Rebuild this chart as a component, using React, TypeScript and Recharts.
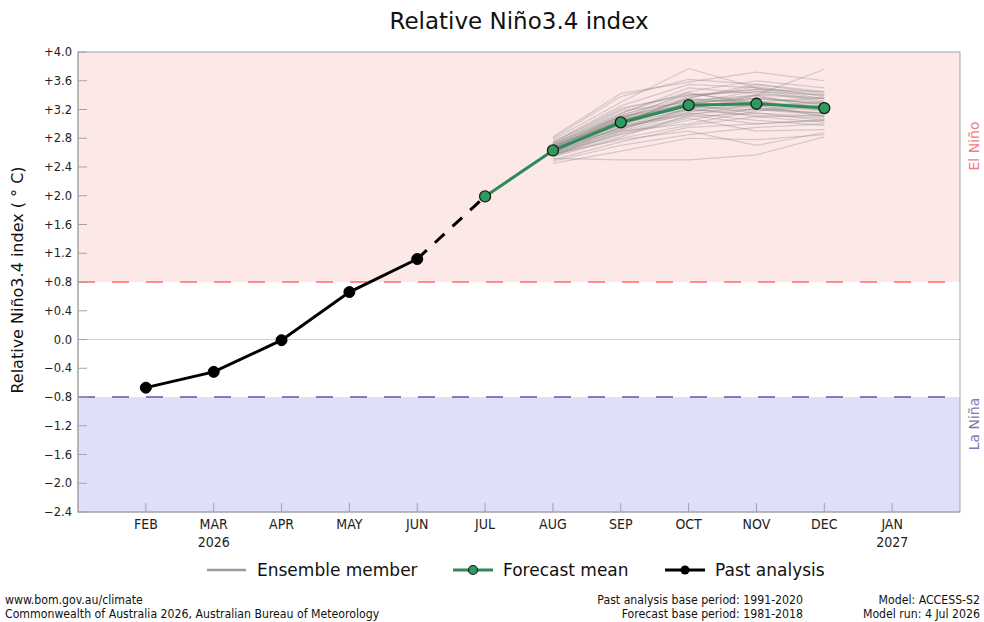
import React from 'react';
import {
  ComposedChart,
  Line,
  XAxis,
  YAxis,
  ReferenceArea,
  ReferenceLine,
} from 'recharts';

const months = ['FEB', 'MAR', 'APR', 'MAY', 'JUN', 'JUL', 'AUG', 'SEP', 'OCT', 'NOV', 'DEC', 'JAN'];
const yearLabels = ['', '2026', '', '', '', '', '', '', '', '', '', '2027'];
const yTicks = [-2.4, -2.0, -1.6, -1.2, -0.8, -0.4, 0.0, 0.4, 0.8, 1.2, 1.6, 2.0, 2.4, 2.8, 3.2, 3.6, 4.0];

// FEB..JUN
const pastAnalysis = [-0.67, -0.45, -0.01, 0.66, 1.12];
// JUL..DEC
const forecastMean = [1.99, 2.63, 3.02, 3.26, 3.28, 3.22];
// AUG..DEC, one row per ensemble member
const ensembleMembers = [
  [2.62, 3.0, 3.25, 3.3, 3.22],
  [2.7, 3.12, 3.4, 3.45, 3.3],
  [2.55, 2.88, 3.1, 3.15, 3.1],
  [2.66, 3.05, 3.3, 3.25, 3.18],
  [2.75, 3.25, 3.55, 3.5, 3.4],
  [2.5, 2.75, 2.95, 3.0, 3.05],
  [2.68, 3.1, 3.28, 3.4, 3.35],
  [2.6, 2.95, 3.18, 3.2, 3.15],
  [2.8, 3.38, 3.62, 3.55, 3.45],
  [2.58, 2.92, 3.22, 3.35, 3.28],
  [2.64, 3.02, 3.35, 3.3, 3.2],
  [2.72, 3.15, 3.45, 3.6, 3.5],
  [2.48, 2.7, 2.85, 2.95, 3.0],
  [2.62, 3.08, 3.2, 3.12, 3.08],
  [2.7, 3.05, 3.28, 3.38, 3.26],
  [2.56, 2.9, 3.15, 3.05, 2.98],
  [2.66, 2.98, 3.3, 3.45, 3.4],
  [2.78, 3.3, 3.77, 3.5, 3.35],
  [2.6, 2.96, 3.12, 3.28, 3.22],
  [2.52, 2.5, 2.5, 2.57, 2.82],
  [2.68, 3.04, 3.24, 3.2, 3.12],
  [2.62, 3.0, 3.38, 3.48, 3.32],
  [2.74, 3.2, 3.42, 3.3, 3.25],
  [2.58, 2.85, 3.05, 3.22, 3.15],
  [2.64, 3.1, 3.32, 3.4, 3.76],
  [2.7, 3.0, 3.2, 3.25, 3.3],
  [2.54, 2.8, 2.98, 3.1, 3.12],
  [2.66, 3.06, 3.26, 3.15, 3.05],
  [2.6, 3.02, 3.36, 3.55, 3.42],
  [2.72, 3.18, 3.3, 3.35, 3.28],
  [2.64, 2.94, 3.16, 3.32, 3.18],
  [2.82, 3.42, 3.58, 3.72, 3.6],
  [2.6, 2.86, 3.08, 2.9, 2.92],
  [2.68, 3.08, 3.34, 3.28, 3.24],
  [2.56, 2.96, 3.22, 3.1, 3.02],
  [2.7, 3.14, 3.5, 3.42, 3.36],
  [2.62, 2.98, 3.14, 3.2, 3.26],
  [2.45, 2.62, 2.8, 2.78, 2.85],
  [2.66, 3.04, 3.28, 3.36, 3.3],
  [2.74, 3.22, 3.4, 3.48, 3.45],
  [2.58, 2.78, 2.9, 2.7, 2.88],
  [2.64, 3.0, 3.3, 3.22, 3.14],
  [2.68, 2.92, 3.2, 3.4, 3.2],
  [2.6, 3.06, 3.44, 3.26, 3.1],
  [2.72, 3.1, 3.24, 3.3, 3.36],
  [2.62, 2.9, 3.0, 3.18, 3.24],
  [2.66, 3.12, 3.36, 3.52, 3.38],
  [2.56, 2.82, 3.12, 3.0, 3.06],
];

const data = months.map((label, i) => {
  const row: Record<string, number | string | null> = {
    m: i + 1,
    label,
    past: i < 5 ? pastAnalysis[i] : null,
    gap: i === 4 ? pastAnalysis[4] : i === 5 ? forecastMean[0] : null,
    mean: i >= 5 && i < 11 ? forecastMean[i - 5] : null,
  };
  ensembleMembers.forEach((mem, k) => {
    row[`e${k}`] = i >= 6 && i < 11 ? mem[i - 6] : null;
  });
  return row;
});

const FONT = "'DejaVu Sans', Verdana, sans-serif";
const COND = "'DejaVu Sans Condensed', 'DejaVu Sans', sans-serif";
const SPINE = '#a3a3a3';
const TICK = 9;

const fmtY = (v: number) => {
  if (Math.abs(v) < 1e-9) return '0.0';
  return (v > 0 ? '+' : '\u2212') + Math.abs(v).toFixed(1);
};

const LeftTick = (props: any) => {
  const { x, y, payload } = props;
  return (
    <g>
      <line x1={x} x2={x + TICK} y1={y} y2={y} stroke={SPINE} />
      <text x={x - 6} y={y} dy={4} textAnchor="end" fontSize={11.5} fontFamily={FONT} fill="#222">
        {fmtY(payload.value)}
      </text>
    </g>
  );
};

const RightTick = (props: any) => {
  const { x, y } = props;
  return <line x1={x} x2={x - TICK} y1={y} y2={y} stroke={SPINE} />;
};

const BottomTick = (props: any) => {
  const { x, y, payload } = props;
  const i = payload.value - 1;
  return (
    <g>
      <line x1={x} x2={x} y1={y} y2={y - TICK} stroke={SPINE} />
      <text x={x} y={y + 17} textAnchor="middle" fontSize={14} fontFamily={COND} style={{ fontStretch: 'condensed' }} fill="#222">
        {months[i]}
      </text>
      {yearLabels[i] && (
        <text x={x} y={y + 35} textAnchor="middle" fontSize={14} fontFamily={COND} style={{ fontStretch: 'condensed' }} fill="#222">
          {yearLabels[i]}
        </text>
      )}
    </g>
  );
};

const TopTick = (props: any) => {
  const { x, y } = props;
  return <line x1={x} x2={x} y1={y} y2={y + TICK} stroke={SPINE} />;
};

const xTicks = months.map((_, i) => i + 1);

export default function App() {
  return (
    <div style={{ position: 'absolute', left: 0, top: 0, width: 984, height: 622, background: '#fff' }}>
      <ComposedChart
        width={984}
        height={622}
        data={data}
        margin={{ top: 52, right: 24, bottom: 70, left: 0 }}
      >
        <ReferenceArea y1={0.8} y2={4.0} fill="#fde8e8" fillOpacity={1} stroke="none" />
        <ReferenceArea y1={-2.4} y2={-0.8} fill="#dfdff9" fillOpacity={1} stroke="none" />
        <ReferenceLine y={0} stroke="#cfcfcf" strokeWidth={1.2} />
        <ReferenceLine y={0.8} stroke="#ff6b6b" strokeWidth={1.3} strokeDasharray="17 17" />
        <ReferenceLine y={-0.8} stroke="#5a5aa8" strokeWidth={1.3} strokeDasharray="17 17" />
        <XAxis
          type="number"
          dataKey="m"
          domain={[0, 13]}
          ticks={xTicks}
          interval={0}
          height={40}
          tickSize={0}
          tickMargin={0}
          tickLine={false}
          axisLine={{ stroke: SPINE }}
          tick={<BottomTick />}
        />
        <XAxis
          xAxisId="top"
          orientation="top"
          type="number"
          domain={[0, 13]}
          ticks={xTicks}
          interval={0}
          height={0}
          tickSize={0}
          tickMargin={0}
          tickLine={false}
          axisLine={{ stroke: SPINE }}
          tick={<TopTick />}
        />
        <YAxis
          type="number"
          domain={[-2.4, 4.0]}
          ticks={yTicks}
          interval={0}
          width={78}
          tickSize={0}
          tickMargin={0}
          tickLine={false}
          axisLine={{ stroke: SPINE }}
          tick={<LeftTick />}
        />
        <YAxis
          yAxisId="right"
          orientation="right"
          type="number"
          domain={[-2.4, 4.0]}
          ticks={yTicks}
          interval={0}
          width={0}
          tickSize={0}
          tickMargin={0}
          tickLine={false}
          axisLine={{ stroke: SPINE }}
          tick={<RightTick />}
        />
        {ensembleMembers.map((_, k) => (
          <Line
            key={`e${k}`}
            dataKey={`e${k}`}
            type="linear"
            stroke="#888"
            strokeOpacity={0.34}
            strokeWidth={1.2}
            dot={false}
            activeDot={false}
            isAnimationActive={false}
          />
        ))}
        <Line
          dataKey="gap"
          type="linear"
          stroke="#000"
          strokeWidth={3}
          strokeDasharray="13 11"
          dot={false}
          activeDot={false}
          isAnimationActive={false}
        />
        <Line
          dataKey="past"
          type="linear"
          stroke="#000"
          strokeWidth={3}
          dot={{ r: 5.5, fill: '#000', stroke: '#000', strokeWidth: 1 }}
          activeDot={false}
          isAnimationActive={false}
        />
        <Line
          dataKey="mean"
          type="linear"
          stroke="#2e8b57"
          strokeWidth={3}
          dot={{ r: 5.5, fill: '#2f9a5e', stroke: '#1a1a1a', strokeWidth: 1.3 }}
          activeDot={false}
          isAnimationActive={false}
        />
      </ComposedChart>

      <svg
        width={984}
        height={622}
        style={{ position: 'absolute', left: 0, top: 0, pointerEvents: 'none' }}
      >
        <rect x={78} y={52} width={882} height={460} fill="none" stroke={SPINE} strokeWidth={1} />
        <text x={519} y={29} textAnchor="middle" fontSize={23} fontFamily={FONT} fill="#111">
          Relative Niño3.4 index
        </text>
        <text
          transform="translate(23,280) rotate(-90)"
          textAnchor="middle"
          fontSize={16}
          fontFamily={FONT}
          fill="#111"
        >
          Relative Niño3.4 index ( ° C)
        </text>
        <text transform="translate(979,146) rotate(-90)" textAnchor="middle" fontSize={14} fontFamily={FONT} fill="#f08080">
          El Niño
        </text>
        <text transform="translate(979,424) rotate(-90)" textAnchor="middle" fontSize={14} fontFamily={FONT} fill="#7a7ab0">
          La Niña
        </text>

        {/* legend */}
        <line x1={207} x2={246} y1={570} y2={570} stroke="#999" strokeWidth={2.5} />
        <text x={257} y={576} fontSize={17} fontFamily={FONT} fill="#111">Ensemble member</text>
        <line x1={453} x2={493} y1={570} y2={570} stroke="#2e8b57" strokeWidth={3} />
        <circle cx={473} cy={570} r={4.5} fill="#2f9a5e" stroke="#1a1a1a" strokeWidth={1.2} />
        <text x={503} y={576} fontSize={17} fontFamily={FONT} fill="#111">Forecast mean</text>
        <line x1={665} x2={705} y1={570} y2={570} stroke="#000" strokeWidth={3} />
        <circle cx={685} cy={570} r={4.5} fill="#000" />
        <text x={715} y={576} fontSize={17} fontFamily={FONT} fill="#111">Past analysis</text>

        {/* footer */}
        <g fontSize={12.2} fontFamily={COND} fill="#111" style={{ fontStretch: 'condensed' }}>
          <text x={5} y={604}>www.bom.gov.au/climate</text>
          <text x={5} y={618}>Commonwealth of Australia 2026, Australian Bureau of Meteorology</text>
          <text x={803} y={604} textAnchor="end">Past analysis base period: 1991-2020</text>
          <text x={803} y={618} textAnchor="end">Forecast base period: 1981-2018</text>
          <text x={980} y={604} textAnchor="end">Model: ACCESS-S2</text>
          <text x={980} y={618} textAnchor="end">Model run: 4 Jul 2026</text>
        </g>
      </svg>
    </div>
  );
}
